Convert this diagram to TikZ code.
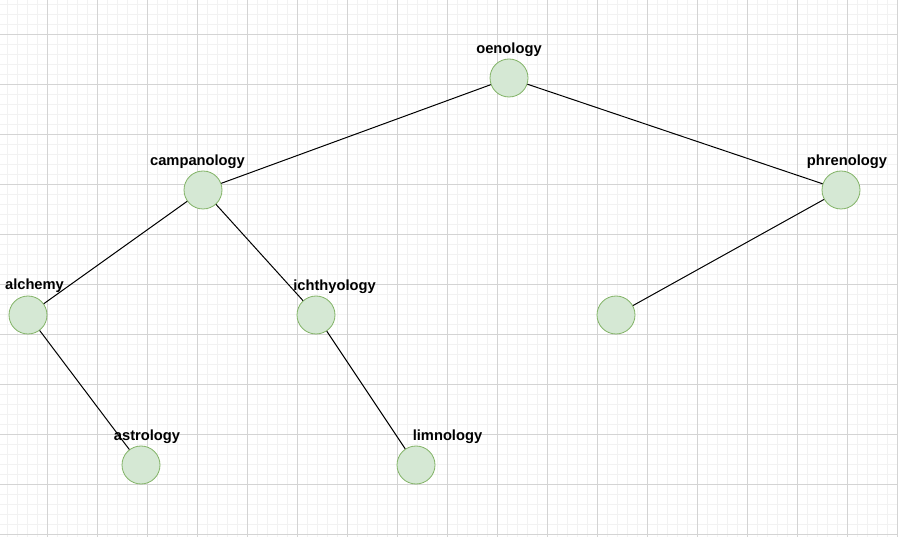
\documentclass[tikz,border=0pt]{standalone}
\usepackage{fontspec}
\setmainfont{Liberation Sans}
\begin{document}
\begin{tikzpicture}[x=1pt,y=-1pt,
  minorgrid/.style={draw=black!5,line width=0.6pt},
  majorgrid/.style={draw=black!17,line width=0.7pt},
  treenode/.style={circle,line width=0.8pt,minimum size=38pt,inner sep=0pt},
  lbl/.style={anchor=base,font=\fontsize{14.7}{16}\selectfont\bfseries,inner sep=0pt},
  edge/.style={draw=black,line width=1pt}]
\definecolor{nodefill}{HTML}{D5E8D4}
\definecolor{nodeborder}{HTML}{82B366}
\tikzset{treenode/.append style={draw=nodeborder,fill=nodefill}}
\useasboundingbox (0,0) rectangle (898,537);
\fill[white] (0,0) rectangle (898,537);
\foreach \x in {7,17,...,897} \draw[minorgrid] (\x,0) -- (\x,537);
\foreach \y in {4,14,...,534} \draw[minorgrid] (0,\y) -- (898,\y);
\foreach \x in {47,97,...,897} \draw[majorgrid] (\x,0) -- (\x,537);
\foreach \y in {34,84,...,534} \draw[majorgrid] (0,\y) -- (898,\y);

\node[treenode] (oen) at (509,78) {};
\node[treenode] (cam) at (203,190) {};
\node[treenode] (phr) at (841,190) {};
\node[treenode] (alc) at (28,315) {};
\node[treenode] (ich) at (316,315) {};
\node[treenode] (unk) at (616,315) {};
\node[treenode] (ast) at (141,465) {};
\node[treenode] (lim) at (416,465) {};

\draw[edge] (oen) -- (cam);
\draw[edge] (oen) -- (phr);
\draw[edge] (cam) -- (alc);
\draw[edge] (cam) -- (ich);
\draw[edge] (phr) -- (unk);
\draw[edge] (alc) -- (ast);
\draw[edge] (ich) -- (lim);

\node[lbl] (loen) at (509,54) {oenology};
\node[lbl] (lcam) at (197.5,166) {campanology};
\node[lbl] (lphr) at (847,166) {phrenology};
\node[lbl] (lalc) at (34.5,290) {alchemy};
\node[lbl] (lich) at (334.5,291) {ichthyology};
\node[lbl] (last) at (147,441) {astrology};
\node[lbl] (llim) at (447.5,441) {limnology};
\end{tikzpicture}
\end{document}
